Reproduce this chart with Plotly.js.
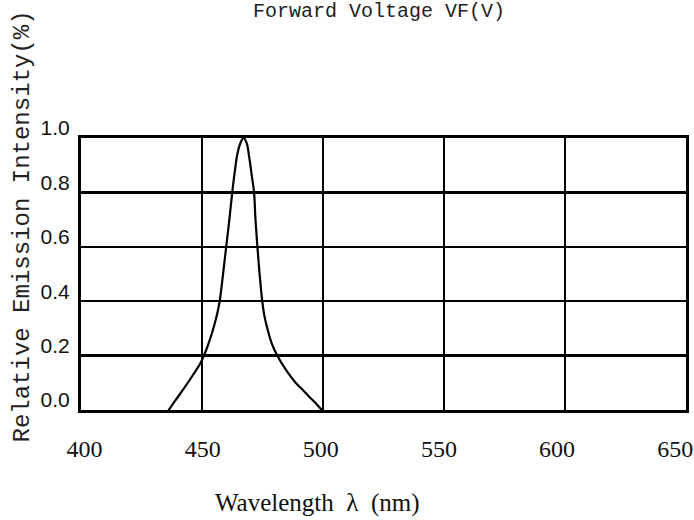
<!DOCTYPE html>
<html>
<head>
<meta charset="utf-8">
<script src="https://cdn.plot.ly/plotly-3.0.1.min.js"></script>
<style>html,body{margin:0;padding:0;background:#fff;}#chart{width:694px;height:520px;}</style>
</head>
<body>
<div id="chart"></div>
<script>
// Spectrum curve
var wavelength = [435.5, 439.0, 442.6, 446.0, 449.5, 451.5, 453.3, 455.0, 456.3, 457.3, 458.7, 460.0, 461.3, 462.5, 463.6, 464.6, 465.8, 467.2, 468.5, 469.5, 470.6, 471.5, 472.1, 472.9, 473.8, 474.9, 475.8, 477.0, 478.8, 481.1, 484.5, 488.7, 491.5, 494.2, 497.0, 499.5];
var intensity  = [-0.01, 0.035, 0.08, 0.125, 0.175, 0.215, 0.26, 0.31, 0.355, 0.40, 0.50, 0.60, 0.70, 0.80, 0.88, 0.94, 0.98, 1.00, 0.98, 0.93, 0.86, 0.80, 0.70, 0.60, 0.50, 0.40, 0.345, 0.30, 0.245, 0.20, 0.15, 0.10, 0.075, 0.05, 0.025, 0.0];
var xTickValues = [400, 450, 500, 550, 600, 650];
var xTickLabels = ['400', '450', '500', '550', '600', '650'];
var yTickValues = [0, 0.2, 0.4, 0.6, 0.8, 1.0];
var yTickLabels = ['0.0', '0.2', '0.4', '0.6', '0.8', '1.0'];
var chartTitle = 'Forward Voltage VF(V)';
var xTitle = 'Wavelength\u00A0\u00A0\u03BB\u00A0\u00A0(nm)';
var yTitle = 'Relative Emission Intensity(%)';

var traces = [
  {
    x: wavelength, y: intensity, type: 'scatter', mode: 'lines',
    line: {color: '#000', width: 2.2, shape: 'spline', smoothing: 1},
    hoverinfo: 'skip', showlegend: false
  },
  {
    x: xTickValues, y: xTickValues.map(function(){return null;}), xaxis: 'x2', yaxis: 'y',
    type: 'scatter', mode: 'none', hoverinfo: 'skip', showlegend: false
  }
];

var layout = {
  width: 694, height: 520,
  margin: {l: 81, r: 8, t: 138, b: 110},
  paper_bgcolor: '#fff', plot_bgcolor: '#fff',
  showlegend: false,
  title: {
    text: chartTitle, xref: 'container', yref: 'container',
    x: 379/694, y: 1 - 10/520, xanchor: 'center', yanchor: 'middle',
    font: {family: 'Liberation Mono, monospace', size: 20, color: '#222'}
  },
  xaxis: {
    range: [400, 650], tickvals: xTickValues, showticklabels: false, ticks: '',
    showgrid: true, gridcolor: '#000', gridwidth: 2.5,
    showline: true, linecolor: '#000', linewidth: 3, mirror: true, zeroline: false
  },
  xaxis2: {
    overlaying: 'x', anchor: 'y', side: 'bottom',
    range: [398.5, 654.6], tickvals: xTickValues, ticktext: xTickLabels, ticks: '',
    showgrid: false, showline: false, zeroline: false,
    ticklabelstandoff: 22,
    tickfont: {family: 'Liberation Serif, serif', size: 24, color: '#111'}
  },
  yaxis: {
    range: [0, 1], tickvals: yTickValues, ticktext: yTickLabels, ticks: '',
    showgrid: true, gridcolor: '#000', gridwidth: 2.5,
    showline: true, linecolor: '#000', linewidth: 3, mirror: true, zeroline: false,
    ticklabelshift: -10, ticklabelstandoff: 4,
    tickfont: {family: 'Liberation Sans, Arial, sans-serif', size: 21, color: '#111'}
  },
  annotations: [
    {
      text: xTitle, xref: 'paper', yref: 'paper',
      x: (317.5 - 81) / 605, y: (410 - 503) / 272, xanchor: 'center', yanchor: 'middle',
      showarrow: false, font: {family: 'Liberation Serif, serif', size: 25, color: '#111'}
    },
    {
      text: yTitle, xref: 'paper', yref: 'paper', textangle: -90,
      x: (22 - 81) / 605, y: (410 - 226.5) / 272, xanchor: 'center', yanchor: 'middle',
      showarrow: false, font: {family: 'Liberation Mono, monospace', size: 24, color: '#222'}
    }
  ]
};

Plotly.newPlot('chart', traces, layout, {displayModeBar: false, staticPlot: true});
</script>
</body>
</html>
